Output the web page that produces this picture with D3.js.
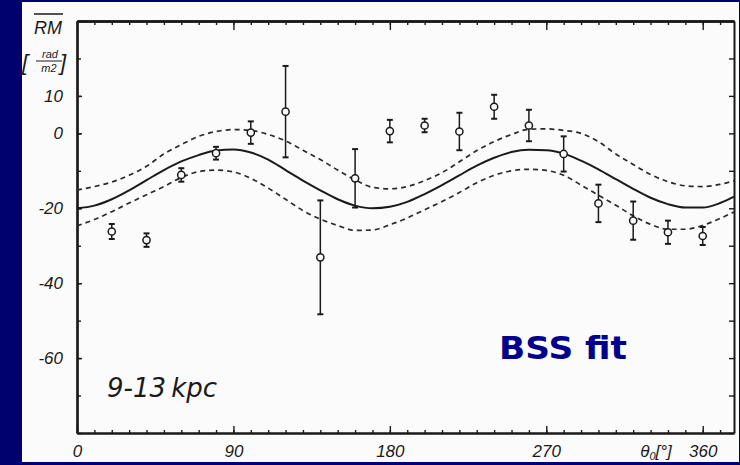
<!DOCTYPE html>
<html>
<head>
<meta charset="utf-8">
<script src="https://cdn.jsdelivr.net/npm/d3@7"></script>
<style>
  html, body { margin: 0; padding: 0; background: #00006f; }
  svg { display: block; }
</style>
</head>
<body>
<svg id="chart" width="740" height="465"></svg>
<script>
// Mean rotation measure per azimuth bin (9-13 kpc ring)
const angles   = [20, 40, 60, 80, 100, 120, 140, 160, 180, 200, 220, 240, 260, 280, 300, 320, 340, 360];
const rmValues = [-26.2, -28.5, -11.1, -5.3, 0.2, 5.8, -33.1, -12.0, 0.6, 2.1, 0.5, 7.1, 2.1, -5.5, -18.7, -23.3, -26.4, -27.4];
const rmErrors = [2.0, 1.8, 1.8, 1.7, 3.0, 12.2, 15.2, 7.8, 3.0, 1.8, 5.0, 3.2, 4.2, 4.7, 5.0, 5.1, 3.1, 2.4];

// BSS model curve and its error band, sampled along azimuth
const curveAngles = [0, 10, 20, 30, 40, 50, 60, 70, 80, 90, 100, 110, 120, 130, 140, 150, 160, 170, 180, 190,
                     200, 210, 220, 230, 240, 250, 260, 270, 280, 290, 300, 310, 320, 330, 340, 350, 360, 370, 378];
const fitCurve   = [-20.0, -19.3, -17.6, -15.2, -12.5, -9.8, -7.5, -5.8, -4.6, -4.3, -5.1, -7.0, -9.8, -12.6, -15.2, -17.6, -19.3, -20.0, -19.6, -18.3,
                    -16.2, -13.8, -11.2, -8.6, -6.5, -5.0, -4.4, -4.5, -5.4, -7.3, -9.6, -12.2, -14.8, -17.2, -18.9, -19.8, -19.8, -18.6, -16.9];
const upperBound = [-15.1, -14.2, -13.0, -11.2, -8.8, -5.5, -3.0, -0.8, 0.5, 1.0, 0.8, -0.3, -2.0, -4.5, -7.0, -9.8, -12.4, -14.4, -14.8, -14.2,
                    -12.6, -10.5, -7.6, -4.6, -2.2, -0.3, 1.1, 1.2, 0.8, 0.0, -2.2, -5.5, -8.3, -11.0, -12.9, -14.0, -14.2, -13.6, -12.7];
const lowerBound = [-24.7, -23.0, -20.9, -18.6, -16.4, -14.2, -11.8, -10.2, -9.8, -10.3, -12.0, -14.6, -17.6, -20.6, -22.9, -24.6, -25.9, -25.8, -24.4, -22.6,
                    -20.4, -18.2, -15.8, -13.2, -11.2, -10.0, -9.6, -9.9, -11.2, -13.8, -16.5, -19.2, -22.0, -24.3, -25.6, -25.6, -24.6, -22.7, -21.0];

// Axis ticks
const xTickLabels = [0, 90, 180, 270, 360];
const xMinorTicks = d3.range(0, 380, 10);
const yTickLabels = [10, 0, -20, -40, -60];
const yMinorTicks = d3.range(-80, 31, 10);

const svg = d3.select("#chart");
const ink = "#1a1a1a";
const labelFont = "'Liberation Sans', Arial, sans-serif";

// paper panel
svg.append("rect").attr("x", 22).attr("y", 2).attr("width", 717).attr("height", 460).attr("fill", "#fbfbfb");

const plotLeft = 77, plotRight = 734, plotTop = 21, plotBottom = 433;
const x = d3.scaleLinear().domain([0, 378]).range([plotLeft, plotRight]);
const y = d3.scaleLinear().domain([-80, 30]).range([plotBottom, plotTop]);

// frame: ticks point inward on all four sides
function styleAxis(g, width) {
  g.select(".domain").attr("stroke", ink).attr("stroke-width", width);
  g.selectAll(".tick line").attr("stroke", ink).attr("stroke-width", 1.4);
  g.selectAll("text").attr("fill", ink).attr("font-family", labelFont)
    .attr("font-style", "italic").attr("font-size", 17);
}

// bottom
svg.append("g").attr("transform", `translate(0,${plotBottom})`)
  .call(d3.axisBottom(x).tickValues(xMinorTicks).tickSizeInner(-3).tickSizeOuter(0).tickFormat(""))
  .call(g => styleAxis(g, 2.2));
svg.append("g").attr("transform", `translate(0,${plotBottom})`)
  .call(d3.axisBottom(x).tickValues(xTickLabels).tickSizeInner(-7).tickSizeOuter(0).tickPadding(12).tickFormat(d3.format("d")))
  .call(g => styleAxis(g, 2.2));
// top
svg.append("g").attr("transform", `translate(0,${plotTop})`)
  .call(d3.axisTop(x).tickValues(xMinorTicks).tickSizeInner(-4).tickSizeOuter(0).tickFormat(""))
  .call(g => styleAxis(g, 2.6));
svg.append("g").attr("transform", `translate(0,${plotTop})`)
  .call(d3.axisTop(x).tickValues(xTickLabels.slice(1)).tickSizeInner(-9).tickSizeOuter(0).tickFormat(""))
  .call(g => styleAxis(g, 2.6));
// left
svg.append("g").attr("transform", `translate(${plotLeft},0)`)
  .call(d3.axisLeft(y).tickValues(yMinorTicks).tickSizeInner(-4).tickSizeOuter(0).tickFormat(""))
  .call(g => styleAxis(g, 2.2));
svg.append("g").attr("transform", `translate(${plotLeft},0)`)
  .call(d3.axisLeft(y).tickValues(yTickLabels).tickSizeInner(-5).tickSizeOuter(0).tickPadding(14).tickFormat(d => d < 0 ? "-" + Math.abs(d) : String(d)))
  .call(g => styleAxis(g, 2.2));
// right
svg.append("g").attr("transform", `translate(${plotRight},0)`)
  .call(d3.axisRight(y).tickValues(yMinorTicks).tickSizeInner(-5).tickSizeOuter(0).tickFormat(""))
  .call(g => styleAxis(g, 2));

// y axis title: RM with overbar, units as a fraction
const title = svg.append("g").attr("fill", ink).attr("font-family", labelFont).attr("font-style", "italic");
title.append("text").attr("x", 48).attr("y", 34).attr("text-anchor", "middle")
  .attr("font-size", 18).text("RM");
title.append("line").attr("x1", 34).attr("x2", 63).attr("y1", 14).attr("y2", 14)
  .attr("stroke", ink).attr("stroke-width", 1.5);
title.append("text").attr("x", 22).attr("y", 70).attr("font-size", 22).text("[");
title.append("text").attr("x", 50).attr("y", 58).attr("text-anchor", "middle").attr("font-size", 11).text("rad");
title.append("line").attr("x1", 36).attr("x2", 62).attr("y1", 61).attr("y2", 61)
  .attr("stroke", ink).attr("stroke-width", 1);
title.append("text").attr("x", 49).attr("y", 72).attr("text-anchor", "middle").attr("font-size", 11).text("m2");
title.append("text").attr("x", 60).attr("y", 70).attr("font-size", 22).text("]");

// x axis title
const xt = svg.append("text").attr("x", 656).attr("y", 457).attr("text-anchor", "middle")
  .attr("fill", ink).attr("font-family", labelFont).attr("font-style", "italic").attr("font-size", 17);
xt.append("tspan").text("θ");
xt.append("tspan").attr("font-size", 11).attr("dy", 3).text("0");
xt.append("tspan").attr("dy", -3).text("[°]");

// model curves
const line = (vals) => d3.line()
  .x((d, i) => x(curveAngles[i]))
  .y(d => y(d))
  .curve(d3.curveMonotoneX)(vals);

svg.append("path").attr("d", line(upperBound)).attr("fill", "none")
  .attr("stroke", "#2a2a2a").attr("stroke-width", 1.7).attr("stroke-dasharray", "5,4");
svg.append("path").attr("d", line(lowerBound)).attr("fill", "none")
  .attr("stroke", "#2a2a2a").attr("stroke-width", 1.7).attr("stroke-dasharray", "5,4");
svg.append("path").attr("d", line(fitCurve)).attr("fill", "none")
  .attr("stroke", "#1a1a1a").attr("stroke-width", 2);

// data with error bars
const pts = svg.append("g").selectAll("g").data(angles).join("g");
pts.append("line")
  .attr("x1", d => x(d)).attr("x2", d => x(d))
  .attr("y1", (d, i) => y(rmValues[i] + rmErrors[i]))
  .attr("y2", (d, i) => y(rmValues[i] - rmErrors[i]))
  .attr("stroke", ink).attr("stroke-width", 1.5);
[1, -1].forEach(s => {
  pts.append("line")
    .attr("x1", d => x(d) - 3).attr("x2", d => x(d) + 3)
    .attr("y1", (d, i) => y(rmValues[i] + s * rmErrors[i]))
    .attr("y2", (d, i) => y(rmValues[i] + s * rmErrors[i]))
    .attr("stroke", ink).attr("stroke-width", 2);
});
pts.append("circle")
  .attr("cx", d => x(d)).attr("cy", (d, i) => y(rmValues[i]))
  .attr("r", 3.6).attr("fill", "#fbfbfb").attr("stroke", ink).attr("stroke-width", 1.5);

// annotations
svg.append("text").attr("x", 107).attr("y", 397)
  .attr("fill", ink).attr("font-family", "'DejaVu Sans', sans-serif").attr("font-style", "italic").attr("font-size", 26)
  .text("9-13\u2009kpc");
svg.append("text").attr("x", 499).attr("y", 359)
  .attr("fill", "#00008c").attr("font-family", "'DejaVu Sans', sans-serif").attr("font-weight", "bold").attr("font-size", 32)
  .attr("textLength", 128).attr("lengthAdjust", "spacingAndGlyphs")
  .text("BSS fit");
</script>
</body>
</html>
